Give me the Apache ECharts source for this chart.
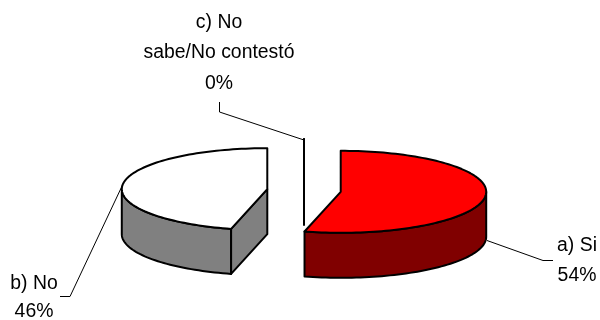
<!doctype html>
<html>
<head>
<meta charset="UTF-8">
<title></title>
<style type="text/css">
	html,body{margin:0;padding:0;background:#fff;}
	#main{width:600px;height:320px;}
</style>
</head>
<body>
<div id="main"></div>
<script src="https://cdn.jsdelivr.net/npm/echarts@6/dist/echarts.min.js"></script>
<script type="text/javascript">
var categories=['a) Si','b) No','c) No\nsabe/No contestó'];
var values=[54,46,0];

//pie geometry, pixels
var cx=304,cy=190.5,rx=145.5,ry=41,depth=45,explode=37;
var topColors=['#ff0000','#ffffff','#ffffff'];
var sideColors=['#800000','#808080','#808080'];
//label top-center and leader line of each slice
var labelPos=[[577,230],[34,269],[219,7]];
var labelLine=[30,28,30.5];
var leaders=[
	[[487,240.5],[543,260.5],[553,260.5]],
	[[123,184],[70,296.5],[60,296.5]],
	[[304,140],[219.5,112],[219.5,102]]
];

var total=0;
for(var i=0;i<values.length;i++){total+=values[i];}

//angles run clockwise from 12 o'clock
function pt(c,a,h){
	return [c[0]+rx*Math.sin(a),c[1]-ry*Math.cos(a)+(h||0)];
}
function arc(c,a1,a2,h){
	var pts=[],n=Math.max(1,Math.ceil(Math.abs(a2-a1)/0.03));
	for(var k=0;k<=n;k++){
		pts.push(pt(c,a1+(a2-a1)*k/n,h));
	}
	return pts;
}
function shape(points,fill){
	return {type:'polygon',shape:{points:points},
		style:{fill:fill,stroke:'#000',lineWidth:2,lineJoin:'round'}};
}
function face(c,a,fill){
	var rim=pt(c,a);
	return shape([c,rim,[rim[0],rim[1]+depth],[c[0],c[1]+depth]],fill);
}

function renderSlice(params,api){
	var i=params.dataIndex,before=0;
	for(var j=0;j<i;j++){before+=values[j];}
	var a1=before/total*Math.PI*2;
	var a2=(before+api.value(1))/total*Math.PI*2;
	var mid=(a1+a2)/2;
	if(a1==a2){mid=0;}
	var c=[cx+explode*Math.sin(mid),cy-explode*ry/rx*Math.cos(mid)];
	var children=[];

	//leader goes under the slice
	children.push({type:'polyline',shape:{points:leaders[i]},
		style:{fill:'none',stroke:'#000',lineWidth:1}});

	//outer wall, front half only
	var w1=Math.max(a1,Math.PI/2),w2=Math.min(a2,Math.PI*3/2);
	if(w2>w1){
		var wall=arc(c,w1,w2,0).concat(arc(c,w2,w1,depth));
		children.push(shape(wall,sideColors[i]));
	}
	//cut faces
	if(Math.sin(a1)<0){children.push(face(c,a1,sideColors[i]));}
	if(Math.sin(a2)>0){children.push(face(c,a2,sideColors[i]));}
	//top
	children.push(shape([c].concat(arc(c,a1,a2,0)),topColors[i]));
	//label, squeezed a little since the original type runs tight
	children.push({type:'text',x:labelPos[i][0],y:labelPos[i][1],scaleX:0.97,style:{
		text:categories[i]+'\n'+api.value(1)+'%',
		textAlign:'center',textVerticalAlign:'top',
		font:'20px "Liberation Sans"',fill:'#000',
		lineHeight:labelLine[i]
	}});
	return {type:'group',children:children};
}

var rows=[];
for(var i=0;i<values.length;i++){rows.push([i,values[i]]);}

var myChart=echarts.init(document.getElementById('main'),null,{renderer:'canvas'});
myChart.setOption({
	animation:false,
	backgroundColor:'#fff',
	series:[{
		type:'custom',
		coordinateSystem:'none',
		silent:true,
		renderItem:renderSlice,
		data:rows
	}]
});
</script>
</body>
</html>
